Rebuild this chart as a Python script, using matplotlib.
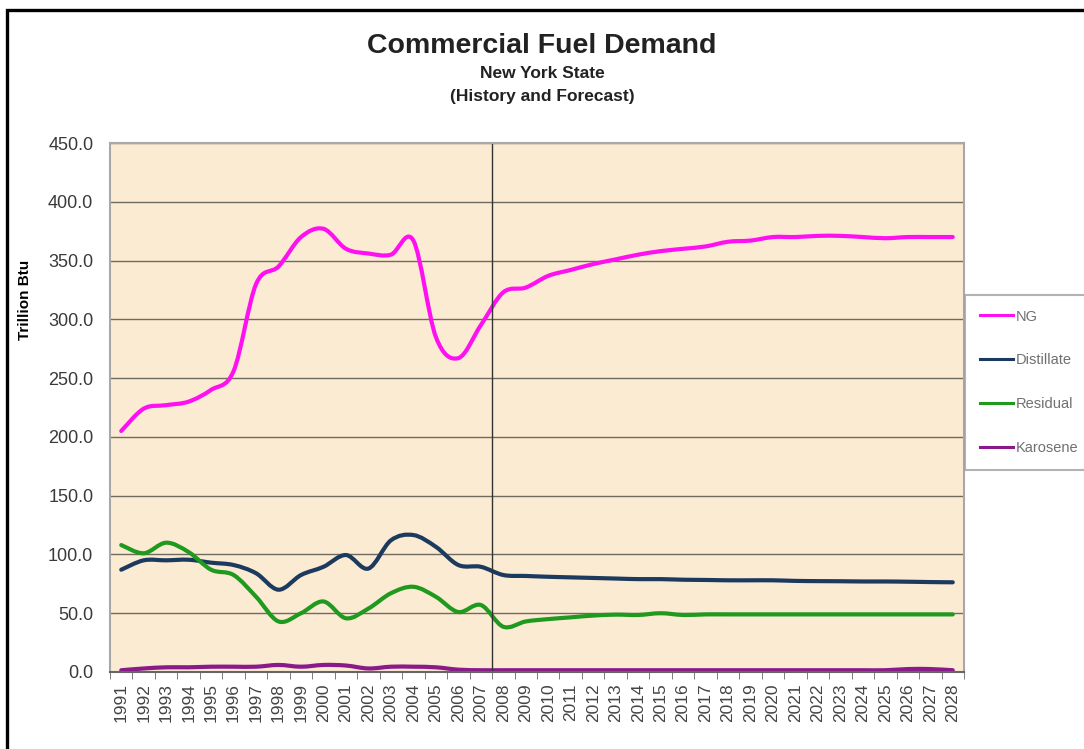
import numpy as np
import matplotlib
matplotlib.use("Agg")
import matplotlib.pyplot as plt
from matplotlib.patches import Rectangle, PathPatch
from matplotlib.path import Path
from matplotlib.lines import Line2D

years = [str(y) for y in range(1991, 2029)]

ng = [205, 224, 227, 230, 240, 256, 330, 345, 370, 377, 360, 356, 355, 367,
      285, 267, 295, 323, 327, 337, 342, 347, 351, 355, 358, 360, 362, 366,
      367, 370, 370, 371, 371, 370, 369, 370, 370, 370]
distillate = [87, 95, 95, 95.5, 93, 91, 84, 70, 82.5, 89.5, 99.5, 88, 112, 116.5,
              106.5, 91, 89.5, 82.5, 81.7, 81, 80.5, 80, 79.5, 79, 79, 78.5, 78.3, 78,
              78, 78, 77.5, 77.3, 77.2, 77, 77, 76.8, 76.5, 76.3]
residual = [108, 101, 110, 102, 87, 82.5, 64, 43, 50, 60, 45.7, 54, 67, 72.5,
            64, 51, 57, 38.5, 43, 45, 46.5, 48, 48.8, 48.5, 50, 48.5, 49, 49,
            49, 49, 49, 49, 49, 49, 49, 49, 49, 49]
kerosene = [1.5, 3, 4, 4, 4.5, 4.5, 4.5, 6, 4.5, 6, 5.5, 3, 4.5, 4.5,
            4, 2, 1.5, 1.5, 1.5, 1.5, 1.5, 1.5, 1.5, 1.5, 1.5, 1.5, 1.5, 1.5,
            1.5, 1.5, 1.5, 1.5, 1.5, 1.5, 1.5, 2.5, 2.5, 1.5]

series = [("NG", ng, "#FF10F0"),
          ("Distillate", distillate, "#1C3A5E"),
          ("Residual", residual, "#1F9A1F"),
          ("Karosene", kerosene, "#8A1A8A")]


def smooth_path(xs, ys):
    # excel-style smoothed line: bezier segments through the data points
    p = np.column_stack([xs, ys]).astype(float)
    n = len(p)
    verts = [p[0]]
    codes = [Path.MOVETO]
    for i in range(n - 1):
        prev = p[i - 1] if i > 0 else p[i]
        nxt = p[i + 2] if i + 2 < n else p[i + 1]
        c1 = p[i] + (p[i + 1] - prev) / 6.0
        c2 = p[i + 1] - (nxt - p[i]) / 6.0
        verts += [c1, c2, p[i + 1]]
        codes += [Path.CURVE4] * 3
    return Path(verts, codes)


plt.rcParams['font.family'] = ['Liberation Sans', 'DejaVu Sans']

fig = plt.figure(figsize=(10.84, 7.49), dpi=100)
fig.patch.set_facecolor("white")

# outer frame of the scanned chart
fig.patches.append(Rectangle((7/1084, -0.05), 1.2, 1 - 10/749 + 0.05,
                             transform=fig.transFigure, fill=False,
                             edgecolor="black", linewidth=2.4))

ax = fig.add_axes([110/1084, 1 - 672/749, 854/1084, 529/749])
ax.set_facecolor("#FCEBD3")

x = np.arange(len(years))
handles = []
for name, vals, col in series:
    ax.add_patch(PathPatch(smooth_path(x, vals), fill=False, edgecolor=col,
                           linewidth=3, capstyle="round", joinstyle="round"))
    handles.append(Line2D([], [], color=col, linewidth=2.2, label=name))

# history / forecast divider
ax.axvline(16.5, color="#333333", linewidth=1)

ax.set_xlim(-0.5, len(years) - 0.5)
ax.set_ylim(0, 450)
ax.set_yticks(np.arange(0, 451, 50))
ax.set_yticklabels(["%.1f" % v for v in np.arange(0, 451, 50)], fontsize=13, color="#3A3A3A")
ax.yaxis.grid(True, color="#6E6A5E", linewidth=1)
ax.set_axisbelow(True)
ax.tick_params(axis="y", length=0, pad=12)

ax.set_xticks(x)
ax.set_xticklabels(years, rotation=90, fontsize=12.5, color="#444444")
ax.set_xticks(np.arange(-0.5, len(years), 1), minor=True)
ax.tick_params(axis="x", which="major", length=0, pad=8)
ax.tick_params(axis="x", which="minor", length=5, color="#666666")

for s in ax.spines.values():
    s.set_color("#A8A8A8")
    s.set_linewidth(1.5)
ax.spines["bottom"].set_color("#666666")

fig.text(25/1084, 1 - 300/749, "Trillion Btu", rotation=90, fontsize=11,
         fontweight="bold", ha="center", va="center")

fig.text(542/1084, 1 - 46/749, "Commercial Fuel Demand", fontsize=20.5,
         fontweight="bold", ha="center", va="center", color="#222222")
fig.text(542/1084, 1 - 74/749, "New York State", fontsize=12.5,
         fontweight="bold", ha="center", va="center", color="#222222")
fig.text(542/1084, 1 - 97/749, "(History and Forecast)", fontsize=12.5,
         fontweight="bold", ha="center", va="center", color="#222222")

leg = fig.legend(handles=handles, loc="upper left",
                 bbox_to_anchor=(965/1084, 1 - 295/749),
                 fontsize=10.5, frameon=True, fancybox=False, handlelength=2.3,
                 handletextpad=0.15, labelspacing=2.05, borderpad=1.0,
                 borderaxespad=0)
leg.get_frame().set_edgecolor("#A0A0A0")
leg.get_frame().set_linewidth(1.5)
for t in leg.get_texts():
    t.set_color("#707070")

fig.savefig("out.png", dpi=100)
